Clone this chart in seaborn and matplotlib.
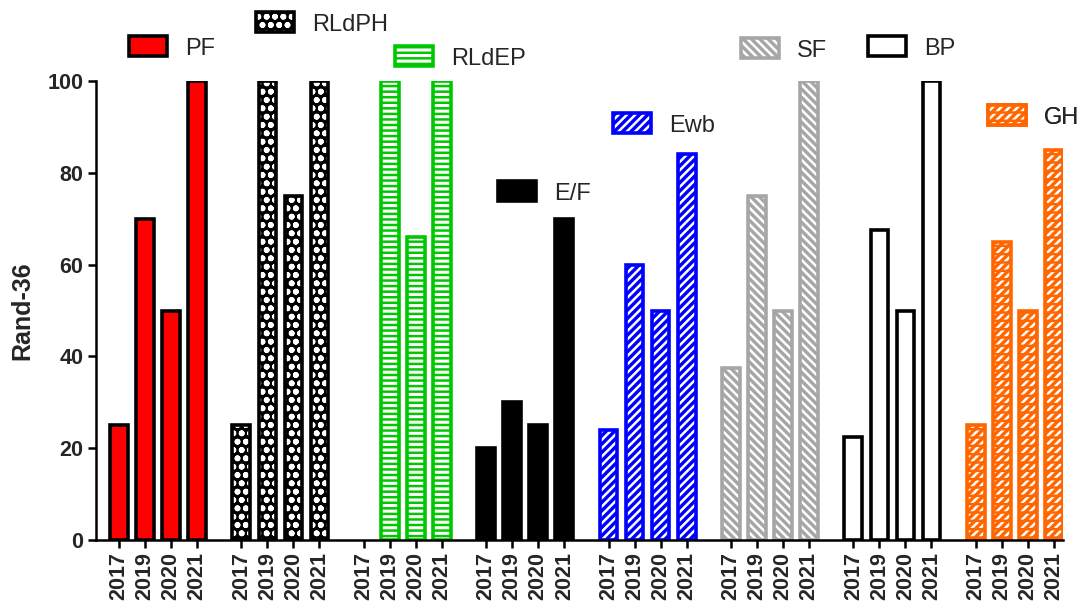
import numpy as np
import pandas as pd
import matplotlib
matplotlib.use("Agg")
import matplotlib.pyplot as plt
from matplotlib.patches import Patch
import seaborn as sns

groups = ["PF", "RLdPH", "RLdEP", "E/F", "Ewb", "SF", "BP", "GH"]
years = ["2017", "2019", "2020", "2021"]
pf = [25, 70, 50, 100]
rldph = [25, 100, 75, 100]
rldep = [np.nan, 100, 66, 100]
ef = [20, 30, 25, 70]
ewb = [24, 60, 50, 84]
sf = [37.5, 75, 50, 100]
bp = [22.5, 67.5, 50, 100]
gh = [25, 65, 50, 85]
values = [pf, rldph, rldep, ef, ewb, sf, bp, gh]

sns.set_style("white")
plt.rcParams['font.family'] = ['Liberation Sans', 'DejaVu Sans']
plt.rcParams['hatch.linewidth'] = 1.8

# style per group: (face, hatch color, hatch, outline)
styles = [
    ("#FF0000", None, None, "black"),
    ("black", "white", "oo", "black"),
    ("white", "#00C800", "---", "#00C800"),
    ("black", None, None, "black"),
    ("#0000FF", "white", "////", "#0000FF"),
    ("#A6A6A6", "white", "\\\\\\\\", "#A6A6A6"),
    ("white", None, None, "black"),
    ("#FF6600", "white", "////", "#FF6600"),
]
# legend anchor (px of swatch left, px of centre y)
leg_pos = [(129, 48), (256, 24), (395, 58), (498, 193),
           (613, 125), (741, 50), (868, 48), (988, 117)]

period = 4.7
lw = 2.6

fig = plt.figure(figsize=(10.85, 6.09), dpi=100)
ax = fig.add_axes([96 / 1085, 1 - 540 / 609, 967 / 1085, 459 / 609])

tick_pos = []
tick_lab = []
for g, name in enumerate(groups):
    pos = [g * period + j for j in range(4)]
    df = pd.DataFrame({"x": pos, "y": values[g]}).dropna()
    face, hcol, hatch, edge = styles[g]
    if hatch is None:
        sns.barplot(data=df, x="x", y="y", native_scale=True, orient="x", width=0.68,
                    color=face, saturation=1, edgecolor=edge, linewidth=lw,
                    errorbar=None, ax=ax)
        handle = Patch(facecolor=face, edgecolor=edge, linewidth=lw)
    else:
        sns.barplot(data=df, x="x", y="y", native_scale=True, orient="x", width=0.68,
                    color=face, saturation=1, edgecolor=hcol, hatch=hatch, linewidth=0,
                    errorbar=None, ax=ax)
        sns.barplot(data=df, x="x", y="y", native_scale=True, orient="x", width=0.68,
                    color=edge, fill=False, linewidth=lw, errorbar=None, ax=ax)
        handle = (Patch(facecolor=face, edgecolor=hcol, hatch=hatch, linewidth=0),
                  Patch(facecolor="none", edgecolor=edge, linewidth=lw))
    if name == "GH":
        # break the white stripes
        sns.barplot(data=df, x="x", y="y", native_scale=True, orient="x", width=0.68,
                    color=edge, fill=False, hatch="--", linewidth=0, errorbar=None, ax=ax)
        handle = handle + (Patch(facecolor="none", edgecolor=edge, hatch="--", linewidth=0),)
    tick_pos += pos
    tick_lab += years
    lx, ly = leg_pos[g]
    leg = ax.legend([handle], [name], loc="center left",
                    bbox_to_anchor=(lx / 1085, 1 - ly / 609), bbox_transform=fig.transFigure,
                    frameon=False, fontsize=17, handlelength=1.6, handleheight=0.93,
                    handletextpad=0.76, borderpad=0, borderaxespad=0)
    ax.add_artist(leg)

ax.set_xlim(-0.88, 7 * period + 3 + 0.35)
ax.set_ylim(0, 100)
ax.set_yticks([0, 20, 40, 60, 80, 100])
ax.set_xticks(tick_pos)
ax.set_xticklabels(tick_lab, rotation=90)
for lab in ax.get_xticklabels() + ax.get_yticklabels():
    lab.set_fontweight("bold")
    lab.set_fontsize(15.5)
ax.tick_params(axis="both", direction="out", length=6, width=1.8, color="black",
               bottom=True, left=True, pad=3)
ax.set_xlabel("")
ax.set_ylabel("Rand-36", fontsize=18, fontweight="bold")
ax.yaxis.set_label_coords(-0.064, 0.5)
sns.despine(ax=ax)
for s in ["left", "bottom"]:
    ax.spines[s].set_linewidth(1.8)
    ax.spines[s].set_color("black")

fig.savefig("out.png", dpi=100)
